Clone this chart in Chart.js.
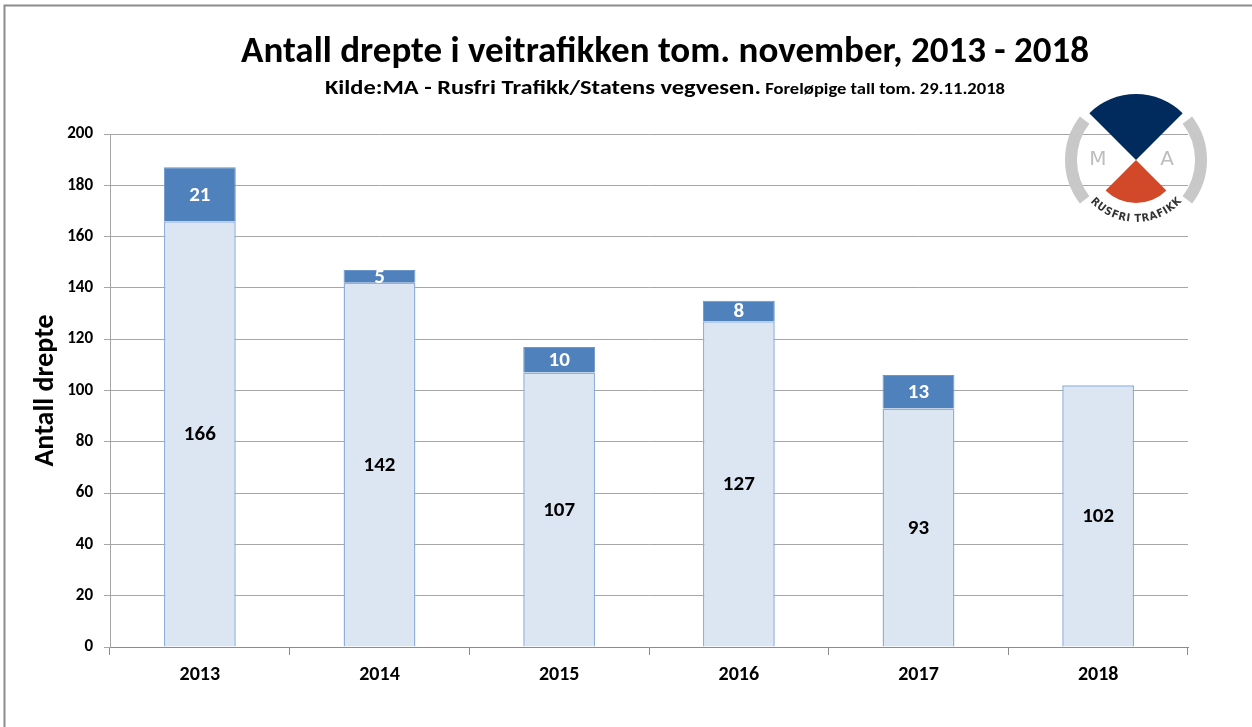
<!DOCTYPE html>
<html>
<head>
<meta charset="utf-8">
<script src="https://cdn.jsdelivr.net/npm/chart.js@4.4.0/dist/chart.umd.min.js"></script>
<style>
html,body{margin:0;padding:0;background:#fff;}
#wrap{width:1252px;height:727px;position:relative;}
</style>
</head>
<body>
<div id="wrap"><canvas id="c" width="1252" height="727"></canvas></div>
<script>
const categories = ['2013','2014','2015','2016','2017','2018'];
const baseValues = [166, 142, 107, 127, 93, 102];
const topValues = [21, 5, 10, 8, 13, null];
const yTicks = [0, 20, 40, 60, 80, 100, 120, 140, 160, 180, 200];
const titleText = 'Antall drepte i veitrafikken tom. november, 2013 - 2018';
const subtitleMain = 'Kilde:MA - Rusfri Trafikk/Statens vegvesen.';
const subtitleSmall = ' Foreløpige tall tom. 29.11.2018';
const yTitle = 'Antall drepte';

const FONT = "Carlito, 'Liberation Sans Narrow', 'Open Sans', sans-serif";

function drawStretched(ctx, text, x, y, targetW) {
  const w = ctx.measureText(text).width;
  ctx.save();
  ctx.translate(x, y);
  ctx.scale(targetW / w, 1);
  ctx.fillText(text, 0, 0);
  ctx.restore();
}

const decorPlugin = {
  id: 'decor',
  beforeDraw(chart) {
    const ctx = chart.ctx;
    ctx.save();
    ctx.fillStyle = '#fff';
    ctx.fillRect(0, 0, chart.width, chart.height);
    ctx.strokeStyle = '#8c8c8c';
    ctx.lineWidth = 2;
    ctx.beginPath();
    ctx.moveTo(4.5, 727);
    ctx.lineTo(4.5, 5.5);
    ctx.lineTo(1252, 5.5);
    ctx.stroke();
    ctx.restore();
  },
  afterDraw(chart) {
    const ctx = chart.ctx;
    ctx.save();
    // Title
    ctx.fillStyle = '#000';
    ctx.textBaseline = 'alphabetic';
    ctx.textAlign = 'center';
    ctx.font = "bold 37px " + FONT;
    ctx.fillText(titleText, 665, 62);
    // subtitle
    ctx.textAlign = 'left';
    ctx.font = "bold 21px " + FONT;
    drawStretched(ctx, subtitleMain, 325, 94, 436);
    ctx.font = "bold 15px " + FONT;
    drawStretched(ctx, subtitleSmall, 761, 94, 244);

    // Data labels
    chart.data.datasets.forEach((ds, di) => {
      const meta = chart.getDatasetMeta(di);
      meta.data.forEach((el, i) => {
        const v = ds.data[i];
        if (v === null || v === undefined) return;
        const cy = (el.y + el.base) / 2;
        ctx.font = "bold 21px " + FONT;
        ctx.textAlign = 'center';
        ctx.textBaseline = 'middle';
        ctx.fillStyle = di === 0 ? '#000' : '#fff';
        ctx.fillText(String(v), el.x, cy + 1);
      });
    });

    // Logo
    const cx = 1136, cy = 160;
    ctx.fillStyle = '#002B5C';
    ctx.beginPath();
    ctx.moveTo(cx, cy);
    ctx.arc(cx, cy, 66, -Math.PI * 0.75, -Math.PI * 0.25);
    ctx.closePath();
    ctx.fill();
    ctx.fillStyle = '#D2492A';
    ctx.beginPath();
    ctx.moveTo(cx, cy);
    ctx.arc(cx, cy, 43, Math.PI * 0.25, Math.PI * 0.75);
    ctx.closePath();
    ctx.fill();
    ctx.strokeStyle = '#c8c8c8';
    ctx.lineWidth = 12;
    ctx.beginPath();
    ctx.arc(cx, cy, 65, Math.PI * 0.79, Math.PI * 1.21);
    ctx.stroke();
    ctx.beginPath();
    ctx.arc(cx, cy, 65, -Math.PI * 0.21, Math.PI * 0.21);
    ctx.stroke();
    ctx.fillStyle = '#bdbdbd';
    ctx.font = "20px 'DejaVu Sans', sans-serif";
    ctx.textAlign = 'center';
    ctx.textBaseline = 'middle';
    ctx.fillText('M', cx - 38, cy);
    ctx.fillText('A', cx + 31, cy);
    // curved text
    const txt = 'RUSFRI TRAFIKK';
    ctx.fillStyle = '#333';
    ctx.font = "bold 11px 'DejaVu Sans Condensed', 'DejaVu Sans', sans-serif";
    const r = 59;
    let total = 0;
    const ws = [];
    for (const ch of txt) { const w = ctx.measureText(ch).width + 0.5; ws.push(w); total += w; }
    const span = total / r;
    let a = Math.PI / 2 + span / 2;
    for (let k = 0; k < txt.length; k++) {
      const mid = a - (ws[k] / 2) / r;
      ctx.save();
      ctx.translate(cx + r * Math.cos(mid), cy + r * Math.sin(mid));
      ctx.rotate(mid - Math.PI / 2);
      ctx.fillText(txt[k], 0, 0);
      ctx.restore();
      a -= ws[k] / r;
    }
    ctx.restore();
  }
};

new Chart(document.getElementById('c'), {
  type: 'bar',
  data: {
    labels: categories,
    datasets: [
      {
        label: 'base',
        data: baseValues,
        backgroundColor: '#DCE6F2',
        borderColor: '#8EB0DB',
        borderWidth: 1.5,
        barPercentage: 0.8,
        categoryPercentage: 0.5
      },
      {
        label: 'top',
        data: topValues,
        backgroundColor: '#4F81BD',
        borderColor: '#6D96C9',
        borderWidth: 1,
        barPercentage: 0.8,
        categoryPercentage: 0.5
      }
    ]
  },
  options: {
    responsive: false,
    animation: false,
    devicePixelRatio: 1,
    layout: { padding: { left: 0, right: 64, top: 134, bottom: 32 } },
    plugins: { legend: { display: false }, tooltip: { enabled: false }, title: { display: false } },
    scales: {
      x: {
        stacked: true,
        grid: { offset: true, drawOnChartArea: false, color: '#8c8c8c', tickLength: 8 },
        border: { color: '#8c8c8c', width: 1 },
        ticks: { color: '#000', font: { family: FONT, size: 20, weight: 'bold' }, padding: 8 }
      },
      y: {
        stacked: true,
        min: 0,
        max: 200,
        afterBuildTicks(scale) { scale.ticks = yTicks.map(v => ({ value: v })); },
        afterFit(scale) { scale.width = 110; },
        grid: { color: '#a6a6a6', tickLength: 6 },
        border: { color: '#a6a6a6', width: 1 },
        ticks: { color: '#000', font: { family: FONT, size: 17, weight: 'bold' }, padding: 11 },
        title: {
          display: true,
          text: yTitle,
          color: '#000',
          font: { family: FONT, size: 28, weight: 'bold' },
          padding: { top: 29, bottom: 0 }
        }
      }
    }
  },
  plugins: [decorPlugin]
});
</script>
</body>
</html>
